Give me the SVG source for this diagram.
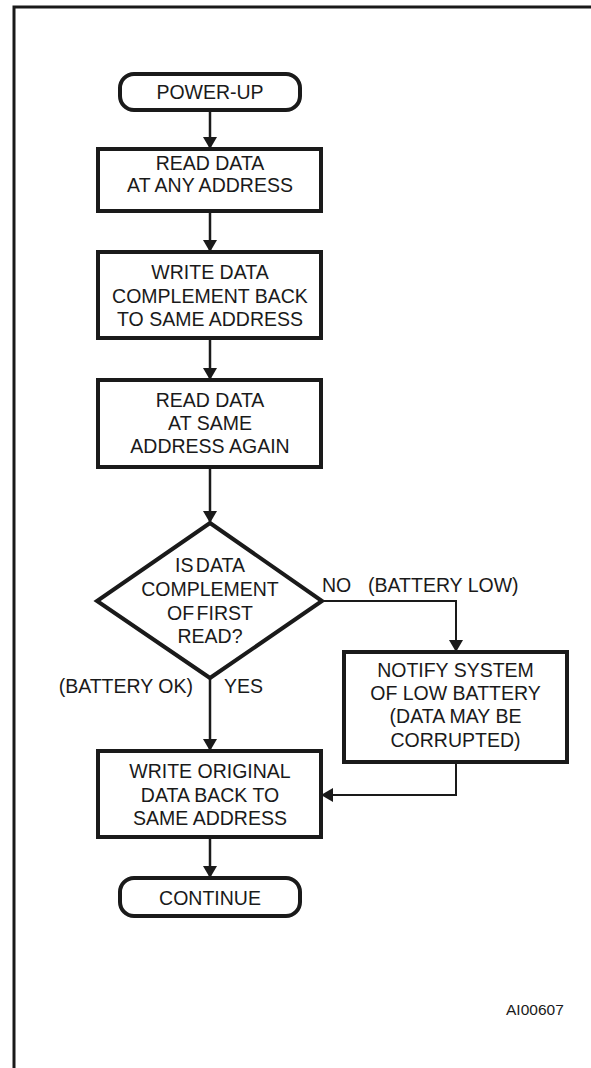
<svg xmlns="http://www.w3.org/2000/svg" width="591" height="1068" viewBox="0 0 591 1068">
<style>
  .frame { fill: none; stroke: #1a1a1a; stroke-width: 3; }
  .box { fill: #ffffff; stroke: #1a1a1a; stroke-width: 4; }
  .conn { fill: none; stroke: #1a1a1a; stroke-width: 2.5; }
  .thin { fill: none; stroke: #1a1a1a; stroke-width: 2; }
  text { font-family: "Liberation Sans", Arial, sans-serif; font-size: 19.5px; fill: #1a1a1a; }
  .c { text-anchor: middle; }
  .small { font-size: 15.5px; }
</style>
<defs>
  <marker id="arr" viewBox="0 0 12 14" refX="12" refY="7" markerWidth="12" markerHeight="14" markerUnits="userSpaceOnUse" orient="auto">
    <path d="M0,0 L12,7 L0,14 Z" fill="#1a1a1a"/>
  </marker>
</defs>
<rect x="0" y="0" width="591" height="1068" fill="#ffffff"/>
<path class="frame" d="M14,1068 V7 H591"/>

<g id="connectors">
  <line class="conn" x1="210" y1="110" x2="210" y2="149" marker-end="url(#arr)"/>
  <line class="conn" x1="210" y1="211" x2="210" y2="252" marker-end="url(#arr)"/>
  <line class="conn" x1="210" y1="338" x2="210" y2="380" marker-end="url(#arr)"/>
  <line class="conn" x1="210" y1="467" x2="210" y2="523" marker-end="url(#arr)"/>
  <line class="conn" x1="210" y1="678" x2="210" y2="751" marker-end="url(#arr)"/>
  <polyline class="thin" points="322,601 456,601 456,652" marker-end="url(#arr)"/>
  <polyline class="thin" points="456,762 456,795 321,795" marker-end="url(#arr)"/>
  <line class="conn" x1="210" y1="837" x2="210" y2="878" marker-end="url(#arr)"/>
</g>

<g id="power-up">
  <rect class="box" x="120" y="74" width="180" height="36" rx="14" ry="14"/>
  <text class="c" x="210" y="99">POWER-UP</text>
</g>

<g id="read-any">
  <rect class="box" x="98" y="149" width="223" height="62"/>
  <text class="c" x="210" y="170">READ DATA</text>
  <text class="c" x="210" y="192">AT ANY ADDRESS</text>
</g>

<g id="write-complement">
  <rect class="box" x="98" y="252" width="223" height="86"/>
  <text class="c" x="210" y="279">WRITE DATA</text>
  <text class="c" x="210" y="302.5">COMPLEMENT BACK</text>
  <text class="c" x="210" y="325.5">TO SAME ADDRESS</text>
</g>

<g id="read-again">
  <rect class="box" x="98" y="380" width="223" height="87"/>
  <text class="c" x="210" y="407">READ DATA</text>
  <text class="c" x="210" y="430">AT SAME</text>
  <text class="c" x="210" y="453">ADDRESS AGAIN</text>
</g>

<g id="decision">
  <polygon class="box" points="210,523 322,601 210,678 97,601"/>
  <text class="c" x="210" y="572" word-spacing="-3">IS DATA</text>
  <text class="c" x="210" y="596">COMPLEMENT</text>
  <text class="c" x="210" y="620" word-spacing="-3">OF FIRST</text>
  <text class="c" x="210" y="643">READ?</text>
</g>

<g id="labels">
  <text x="322" y="592">NO</text>
  <text x="368" y="592">(BATTERY LOW)</text>
  <text x="193" y="693" text-anchor="end">(BATTERY OK)</text>
  <text x="224" y="693">YES</text>
</g>

<g id="notify">
  <rect class="box" x="344" y="652" width="223" height="110"/>
  <text class="c" x="455.5" y="677">NOTIFY SYSTEM</text>
  <text class="c" x="455.5" y="700">OF LOW BATTERY</text>
  <text class="c" x="455.5" y="723">(DATA MAY BE</text>
  <text class="c" x="455.5" y="747">CORRUPTED)</text>
</g>

<g id="write-original">
  <rect class="box" x="98" y="751" width="223" height="86"/>
  <text class="c" x="210" y="778">WRITE ORIGINAL</text>
  <text class="c" x="210" y="802">DATA BACK TO</text>
  <text class="c" x="210" y="825">SAME ADDRESS</text>
</g>

<g id="continue">
  <rect class="box" x="120" y="878" width="180" height="38" rx="14" ry="14"/>
  <text class="c" x="210" y="905">CONTINUE</text>
</g>

<text class="small" x="506" y="1015">AI00607</text>
</svg>
